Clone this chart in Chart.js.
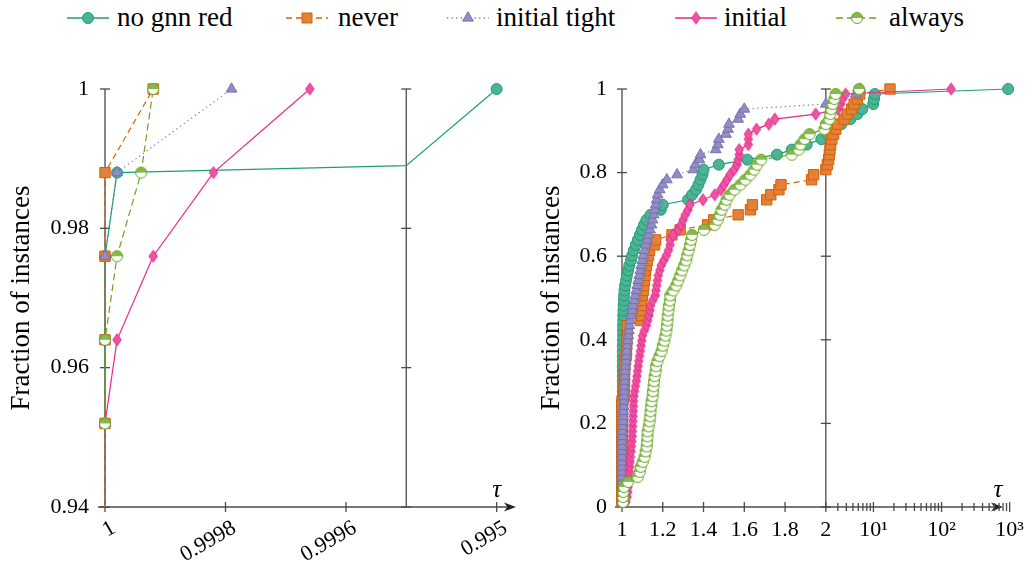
<!DOCTYPE html>
<html>
<head>
<meta charset="utf-8">
<script src="https://cdn.jsdelivr.net/npm/chart.js@4.4.1/dist/chart.umd.min.js"></script>
<style>
  html, body { margin: 0; padding: 0; background: #fff; }
  body { width: 1034px; height: 563px; position: relative; overflow: hidden; font-family: 'Liberation Serif', 'DejaVu Serif', serif; }
  #legend { position: absolute; left: 0; top: 0; width: 1034px; height: 36px; font-size: 27px; color: #000; }
  #legend canvas { position: absolute; top: 7px; }
  #legend span { position: absolute; top: 0; line-height: 34px; white-space: nowrap; }
  #left { position: absolute; left: 0; top: 40px; }
  #right { position: absolute; left: 530px; top: 40px; }
</style>
</head>
<body>
<div id="legend"></div>
<div id="left"><canvas id="cl" width="530" height="523"></canvas></div>
<div id="right"><canvas id="cr" width="504" height="523"></canvas></div>
<script>
// series, in drawing order
const seriesNames = ['no gnn red', 'never', 'initial tight', 'initial', 'always'];

// left panel: [tau, fraction] (third value 0 = no mark, point on the axis break)
const leftNoGnn = [[1, 0.93], [1, 0.952], [1, 0.964], [1, 0.976], [0.99998, 0.988], [0.9995, 0.989, 0], [0.995, 1.0]];
const leftNever = [[1, 0.93], [1, 0.952], [1, 0.964], [1, 0.976], [1, 0.988], [0.99992, 1.0]];
const leftInitTight = [[1, 0.93], [1, 0.952], [1, 0.964], [1, 0.976], [0.99998, 0.988], [0.99979, 1.0]];
const leftInitial = [[1, 0.93], [1, 0.952], [0.99998, 0.964], [0.99992, 0.976], [0.99982, 0.988], [0.99966, 1.0]];
const leftAlways = [[1, 0.93], [1, 0.952], [1, 0.964], [0.99998, 0.976], [0.99994, 0.988], [0.99992, 1.0]];

// right panel: [tau, fraction]
const rightNoGnn = [[1,0.012],[1,0.024],[1,0.036],[1,0.048],[1,0.060],[1,0.072],[1,0.084],[1,0.096],[1,0.108],[1,0.120],[1,0.133],[1,0.145],[1,0.157],[1,0.169],[1,0.181],[1,0.193],[1,0.205],[1,0.217],[1,0.229],[1,0.241],[1,0.253],[1.004,0.265],[1.004,0.277],[1.004,0.289],[1.004,0.301],[1.004,0.313],[1.004,0.325],[1.004,0.337],[1.004,0.349],[1.004,0.361],[1.004,0.373],[1.004,0.386],[1.005,0.398],[1.005,0.410],[1.005,0.422],[1.005,0.434],[1.006,0.446],[1.006,0.458],[1.007,0.470],[1.008,0.482],[1.009,0.494],[1.01,0.506],[1.012,0.518],[1.015,0.530],[1.02,0.542],[1.024,0.554],[1.03,0.566],[1.036,0.578],[1.044,0.590],[1.05,0.602],[1.058,0.614],[1.068,0.627],[1.078,0.639],[1.088,0.651],[1.098,0.663],[1.108,0.675],[1.12,0.687],[1.14,0.699],[1.19,0.711],[1.2,0.723],[1.324,0.735],[1.344,0.747],[1.363,0.759],[1.375,0.771],[1.385,0.783],[1.395,0.795],[1.4,0.807],[1.475,0.819],[1.615,0.831],[1.76,0.843],[1.833,0.855],[1.906,0.867],[1.978,0.880],[2.14,0.892],[2.6,0.904],[3.4,0.916],[4.6,0.928],[5.8,0.940],[6.86,0.952],[9.9,0.964],[10.2,0.976],[10.5,0.988],[950,1.0]];
const rightNever = [[1,0.012],[1,0.024],[1,0.036],[1,0.048],[1,0.060],[1,0.072],[1,0.084],[1,0.096],[1,0.108],[1,0.120],[1,0.133],[1,0.145],[1,0.157],[1,0.169],[1,0.181],[1,0.193],[1,0.205],[1,0.217],[1,0.229],[1,0.241],[1,0.253],[1.01,0.265],[1.01,0.277],[1.01,0.289],[1.012,0.301],[1.012,0.313],[1.012,0.325],[1.014,0.337],[1.014,0.349],[1.02,0.361],[1.022,0.373],[1.022,0.386],[1.024,0.398],[1.024,0.410],[1.026,0.422],[1.026,0.434],[1.09,0.446],[1.092,0.458],[1.094,0.470],[1.096,0.482],[1.097,0.494],[1.1,0.506],[1.104,0.518],[1.107,0.530],[1.11,0.542],[1.113,0.554],[1.116,0.566],[1.12,0.578],[1.124,0.590],[1.13,0.602],[1.135,0.614],[1.16,0.627],[1.165,0.639],[1.245,0.651],[1.285,0.663],[1.42,0.675],[1.45,0.687],[1.57,0.699],[1.63,0.711],[1.64,0.723],[1.71,0.735],[1.73,0.747],[1.77,0.759],[1.78,0.771],[1.93,0.783],[1.94,0.795],[2.0,0.807],[2.1,0.819],[2.2,0.831],[2.25,0.843],[2.3,0.855],[2.35,0.867],[2.45,0.880],[2.6,0.892],[2.8,0.904],[3.0,0.916],[3.7,0.928],[4.1,0.940],[4.8,0.952],[5.2,0.964],[5.8,0.976],[6.3,0.988],[17.5,1.0]];
const rightInitTight = [[1,0.012],[1,0.024],[1,0.036],[1,0.048],[1,0.060],[1,0.072],[1,0.084],[1,0.096],[1,0.108],[1,0.120],[1,0.133],[1,0.145],[1,0.157],[1.002,0.169],[1.003,0.181],[1.004,0.193],[1.005,0.205],[1.006,0.217],[1.007,0.229],[1.008,0.241],[1.009,0.253],[1.01,0.265],[1.011,0.277],[1.012,0.289],[1.013,0.301],[1.014,0.313],[1.015,0.325],[1.017,0.337],[1.019,0.349],[1.021,0.361],[1.023,0.373],[1.025,0.386],[1.028,0.398],[1.031,0.410],[1.034,0.422],[1.037,0.434],[1.04,0.446],[1.045,0.458],[1.05,0.470],[1.055,0.482],[1.06,0.494],[1.065,0.506],[1.07,0.518],[1.075,0.530],[1.08,0.542],[1.085,0.554],[1.09,0.566],[1.095,0.578],[1.1,0.590],[1.105,0.602],[1.11,0.614],[1.118,0.627],[1.125,0.639],[1.13,0.651],[1.138,0.663],[1.145,0.675],[1.15,0.687],[1.155,0.699],[1.16,0.711],[1.165,0.723],[1.17,0.735],[1.175,0.747],[1.185,0.759],[1.2,0.771],[1.22,0.783],[1.27,0.795],[1.35,0.807],[1.36,0.819],[1.38,0.831],[1.385,0.843],[1.46,0.855],[1.47,0.867],[1.475,0.880],[1.51,0.892],[1.52,0.904],[1.525,0.916],[1.57,0.928],[1.58,0.940],[1.6,0.952],[2.0,0.964],[3.0,0.976],[5.5,0.988],[6.4,1.0]];
const rightInitial = [[1.02,0.012],[1.025,0.024],[1.028,0.036],[1.03,0.048],[1.032,0.060],[1.034,0.072],[1.036,0.084],[1.038,0.096],[1.04,0.108],[1.042,0.120],[1.044,0.133],[1.046,0.145],[1.048,0.157],[1.05,0.169],[1.051,0.181],[1.052,0.193],[1.053,0.205],[1.054,0.217],[1.055,0.229],[1.056,0.241],[1.057,0.253],[1.058,0.265],[1.062,0.277],[1.066,0.289],[1.07,0.301],[1.073,0.313],[1.076,0.325],[1.079,0.337],[1.082,0.349],[1.086,0.361],[1.09,0.373],[1.093,0.386],[1.097,0.398],[1.1,0.410],[1.11,0.422],[1.12,0.434],[1.126,0.446],[1.132,0.458],[1.137,0.470],[1.14,0.482],[1.15,0.494],[1.163,0.506],[1.166,0.518],[1.17,0.530],[1.174,0.542],[1.178,0.554],[1.185,0.566],[1.192,0.578],[1.205,0.590],[1.218,0.602],[1.228,0.614],[1.236,0.627],[1.236,0.639],[1.25,0.651],[1.276,0.663],[1.29,0.675],[1.3,0.687],[1.31,0.699],[1.324,0.711],[1.333,0.723],[1.397,0.735],[1.455,0.747],[1.485,0.759],[1.5,0.771],[1.515,0.783],[1.53,0.795],[1.55,0.807],[1.565,0.819],[1.57,0.831],[1.575,0.843],[1.575,0.855],[1.62,0.867],[1.62,0.880],[1.62,0.892],[1.66,0.904],[1.72,0.916],[1.75,0.928],[1.95,0.940],[3.0,0.952],[3.3,0.964],[3.5,0.976],[3.9,0.988],[138,1.0]];
const rightAlways = [[1.005,0.012],[1.005,0.024],[1.007,0.036],[1.01,0.048],[1.03,0.060],[1.077,0.072],[1.087,0.084],[1.092,0.096],[1.102,0.108],[1.111,0.120],[1.116,0.133],[1.121,0.145],[1.123,0.157],[1.125,0.169],[1.126,0.181],[1.131,0.193],[1.135,0.205],[1.138,0.217],[1.14,0.229],[1.143,0.241],[1.145,0.253],[1.15,0.265],[1.152,0.277],[1.155,0.289],[1.157,0.301],[1.16,0.313],[1.165,0.325],[1.167,0.337],[1.174,0.349],[1.184,0.361],[1.194,0.373],[1.2,0.386],[1.208,0.398],[1.213,0.410],[1.218,0.422],[1.22,0.434],[1.223,0.446],[1.225,0.458],[1.228,0.470],[1.23,0.482],[1.235,0.494],[1.237,0.506],[1.252,0.518],[1.266,0.530],[1.276,0.542],[1.286,0.554],[1.295,0.566],[1.305,0.578],[1.315,0.590],[1.32,0.602],[1.327,0.614],[1.334,0.627],[1.339,0.639],[1.344,0.651],[1.402,0.663],[1.455,0.675],[1.47,0.687],[1.48,0.699],[1.489,0.711],[1.504,0.723],[1.513,0.735],[1.528,0.747],[1.552,0.759],[1.581,0.771],[1.605,0.783],[1.63,0.795],[1.649,0.807],[1.663,0.819],[1.683,0.831],[1.833,0.843],[1.867,0.855],[1.876,0.867],[1.896,0.880],[1.92,0.892],[1.993,0.904],[2.0,0.916],[2.26,0.928],[2.32,0.940],[2.4,0.952],[2.52,0.964],[2.67,0.976],[2.79,0.988],[6.16,1.0]];

// axis ticks
const leftXTicks = [1, 0.9998, 0.9996, 0.995];
const leftXLabels = ['1', '0.9998', '0.9996', '0.995'];
const leftYTicks = [0.94, 0.96, 0.98, 1];
const leftYLabels = ['0.94', '0.96', '0.98', '1'];
const rightXTicks = [1, 1.2, 1.4, 1.6, 1.8, 2, 10, 100, 1000];
const rightXLabels = ['1', '1.2', '1.4', '1.6', '1.8', '2', '10¹', '10²', '10³'];
const rightXMinor = [3, 4, 5, 6, 7, 8, 9, 20, 30, 40, 50, 60, 70, 80, 90, 200, 300, 400, 500, 600, 700, 800, 900];
const rightYTicks = [0, 0.2, 0.4, 0.6, 0.8, 1];
const rightYLabels = ['0', '0.2', '0.4', '0.6', '0.8', '1'];

// left axis: linear up to the break at 0.9995, then a compressed part
function leftX(t) { return t >= 0.9995 ? (1 - t) / 0.0002 : 2.5 + (0.9995 - t) / 0.006; }
// right axis: linear from 1 to 2, then logarithmic
const DEC = 69 / 206.5;
function rightX(t) { return t <= 2 ? t - 1 : 1 + Math.log10(t / 2) * DEC; }

const FONT = "'Liberation Serif', 'DejaVu Serif', serif";
const colors = ['#1b9e77', '#d95f02', '#7570b3', '#e7298a', '#66a61e'];
const fills = ['#4db394', '#e2813a', '#928ec3', '#ec55a1', '#86b84c'];
const dashes = [[], [6, 4], [1.2, 3.4], [], [7, 4]];
// legend placement (sample start, text start)
const legendSampleX = [66, 285, 446, 674, 835];
const legendTextX = [117, 338, 496, 724, 889];

function diamondImg() {
  const c = document.createElement('canvas'); c.width = 12; c.height = 15;
  const g = c.getContext('2d');
  g.beginPath(); g.moveTo(6, 1.5); g.lineTo(10.2, 7.5); g.lineTo(6, 13.5); g.lineTo(1.8, 7.5); g.closePath();
  g.fillStyle = fills[3]; g.fill(); g.strokeStyle = colors[3]; g.lineWidth = 1; g.stroke();
  return c;
}
function halfCircleImg() {
  const c = document.createElement('canvas'); c.width = 14; c.height = 14;
  const g = c.getContext('2d');
  g.beginPath(); g.arc(7, 7, 5.5, 0, Math.PI * 2); g.fillStyle = '#fff'; g.fill();
  g.beginPath(); g.arc(7, 7, 5.5, Math.PI, Math.PI * 2); g.closePath(); g.fillStyle = fills[4]; g.fill();
  g.beginPath(); g.arc(7, 7, 5.5, 0, Math.PI * 2); g.strokeStyle = colors[4]; g.lineWidth = 1; g.stroke();
  return c;
}
const pointStyles = ['circle', 'rect', 'triangle', diamondImg(), halfCircleImg()];
const radii = [5.5, 7.3, 6.2, 6, 6];

Chart.defaults.font.family = FONT;
Chart.defaults.color = '#000';

function makeSets(arrays, xf) {
  return arrays.map((arr, i) => ({
    label: seriesNames[i],
    data: arr.map(p => ({ x: xf(p[0]), y: p[1], m: p.length < 3 })),
    showLine: true,
    borderColor: colors[i],
    borderWidth: 1.2,
    borderDash: dashes[i],
    tension: 0,
    pointStyle: pointStyles[i],
    pointRadius: ctx => (ctx.raw && ctx.raw.m === false ? 0 : radii[i]),
    pointBackgroundColor: fills[i],
    pointBorderColor: colors[i],
    pointBorderWidth: 1,
    order: 5 - i
  }));
}

// axis lines, both-sided ticks, arrow and tau label
const axisDeco = {
  id: 'axisDeco',
  beforeDatasetsDraw(chart, args, o) {
    const { ctx, chartArea: a } = chart;
    const xs = chart.scales.x, ys = chart.scales.y;
    const seg = (x1, y1, x2, y2) => { ctx.beginPath(); ctx.moveTo(x1, y1); ctx.lineTo(x2, y2); ctx.stroke(); };
    ctx.save();
    ctx.strokeStyle = '#4a4a4a';
    ctx.lineWidth = 1.3;
    o.vlines.forEach(v => {
      const px = xs.getPixelForValue(v);
      seg(px, a.top, px, a.bottom);
      o.yTicks.forEach(t => { const py = ys.getPixelForValue(t); seg(px - 5, py, px + 5, py); });
    });
    const tip = xs.getPixelForValue(o.arrowAt);
    seg(a.left - 7, a.bottom, tip - 3, a.bottom);
    ctx.fillStyle = '#222';
    ctx.beginPath();
    ctx.moveTo(tip, a.bottom); ctx.lineTo(tip - 12, a.bottom - 4.5); ctx.lineTo(tip - 8.5, a.bottom); ctx.lineTo(tip - 12, a.bottom + 4.5);
    ctx.closePath(); ctx.fill();
    o.xTicks.forEach(t => { const px = xs.getPixelForValue(t); seg(px, a.bottom - 5, px, a.bottom + 5); });
    (o.minor || []).forEach(t => { const px = xs.getPixelForValue(t); seg(px, a.bottom - 4, px, a.bottom + 4); });
    ctx.fillStyle = '#000';
    ctx.font = 'italic 25px ' + FONT;
    ctx.textAlign = 'center';
    ctx.fillText('τ', xs.getPixelForValue(o.tauAt), a.bottom - 10);
    ctx.restore();
  }
};

function yTitle() {
  return { display: true, text: 'Fraction of instances', font: { size: 27 }, padding: { top: 6, bottom: 0 } };
}

new Chart(document.getElementById('cl'), {
  type: 'scatter',
  data: { datasets: makeSets([leftNoGnn, leftNever, leftInitTight, leftInitial, leftAlways], leftX).map(d => Object.assign(d, { clip: { left: 9, top: 9, right: 9, bottom: 0 } })) },
  plugins: [axisDeco],
  options: {
    responsive: false, animation: false, events: [],
    layout: { padding: { top: 49, right: 13, left: 0, bottom: 0 } },
    plugins: {
      legend: { display: false }, tooltip: { enabled: false },
      axisDeco: { vlines: [leftX(1), 2.5], yTicks: leftYTicks, xTicks: leftXTicks.map(leftX), arrowAt: 3.41, tauAt: leftX(0.995) }
    },
    scales: {
      x: {
        type: 'linear', min: 0, max: 3.419,
        grid: { display: false, drawTicks: false }, border: { display: false },
        afterBuildTicks: s => { s.ticks = leftXTicks.map(v => ({ value: leftX(v) })); },
        afterFit: s => { s.height = 56; },
        ticks: { autoSkip: false, minRotation: 30, maxRotation: 30, padding: 8, labelOffset: 9, font: { size: 22 }, callback: (v, i) => leftXLabels[i] }
      },
      y: {
        min: 0.94, max: 1,
        grid: { display: false, drawTicks: false }, border: { display: false },
        afterBuildTicks: s => { s.ticks = leftYTicks.map(v => ({ value: v })); },
        afterFit: s => { s.width = 105; },
        ticks: { autoSkip: false, padding: 16, font: { size: 22 }, callback: (v, i) => leftYLabels[i] },
        title: yTitle()
      }
    }
  }
});

new Chart(document.getElementById('cr'), {
  type: 'scatter',
  data: { datasets: makeSets([rightNoGnn, rightNever, rightInitTight, rightInitial, rightAlways], rightX).map(d => Object.assign(d, { clip: { left: 9, top: 9, right: 9, bottom: 3 } })) },
  plugins: [axisDeco],
  options: {
    responsive: false, animation: false, events: [],
    layout: { padding: { top: 49, right: 18, left: 0, bottom: 0 } },
    plugins: {
      legend: { display: false }, tooltip: { enabled: false },
      axisDeco: { vlines: [rightX(1), rightX(2)], yTicks: rightYTicks, xTicks: rightXTicks.map(rightX), minor: rightXMinor.map(rightX), arrowAt: 1.869, tauAt: 1.8445 }
    },
    scales: {
      x: {
        type: 'linear', min: 0, max: 1.908,
        grid: { display: false, drawTicks: false }, border: { display: false },
        afterBuildTicks: s => { s.ticks = rightXTicks.map(v => ({ value: rightX(v) })); },
        afterFit: s => { s.height = 56; },
        ticks: { autoSkip: false, maxRotation: 0, minRotation: 0, padding: 10, font: { size: 22 }, callback: (v, i) => rightXLabels[i] }
      },
      y: {
        min: 0, max: 1,
        grid: { display: false, drawTicks: false }, border: { display: false },
        afterBuildTicks: s => { s.ticks = rightYTicks.map(v => ({ value: v })); },
        afterFit: s => { s.width = 92; },
        ticks: { autoSkip: false, padding: 15, font: { size: 22 }, callback: (v, i) => rightYLabels[i] },
        title: yTitle()
      }
    }
  }
});

// legend row
const legend = document.getElementById('legend');
seriesNames.forEach((name, i) => {
  const c = document.createElement('canvas'); c.width = 44; c.height = 22;
  c.style.left = legendSampleX[i] + 'px';
  const g = c.getContext('2d');
  g.strokeStyle = colors[i]; g.lineWidth = 1.6; g.setLineDash(dashes[i]);
  g.beginPath(); g.moveTo(1, 11); g.lineTo(43, 11); g.stroke(); g.setLineDash([]);
  const st = pointStyles[i];
  if (typeof st !== 'string') { g.drawImage(st, 22 - st.width / 2, 11 - st.height / 2); }
  else {
    g.fillStyle = fills[i]; g.strokeStyle = colors[i]; g.lineWidth = 1;
    g.beginPath();
    if (st === 'circle') g.arc(22, 11, 5.5, 0, Math.PI * 2);
    else if (st === 'rect') g.rect(17, 6, 10, 10);
    else { g.moveTo(22, 4.8); g.lineTo(27.4, 14.1); g.lineTo(16.6, 14.1); g.closePath(); }
    g.fill(); g.stroke();
  }
  const t = document.createElement('span'); t.textContent = name;
  t.style.left = legendTextX[i] + 'px';
  legend.appendChild(c); legend.appendChild(t);
});
</script>
</body>
</html>
